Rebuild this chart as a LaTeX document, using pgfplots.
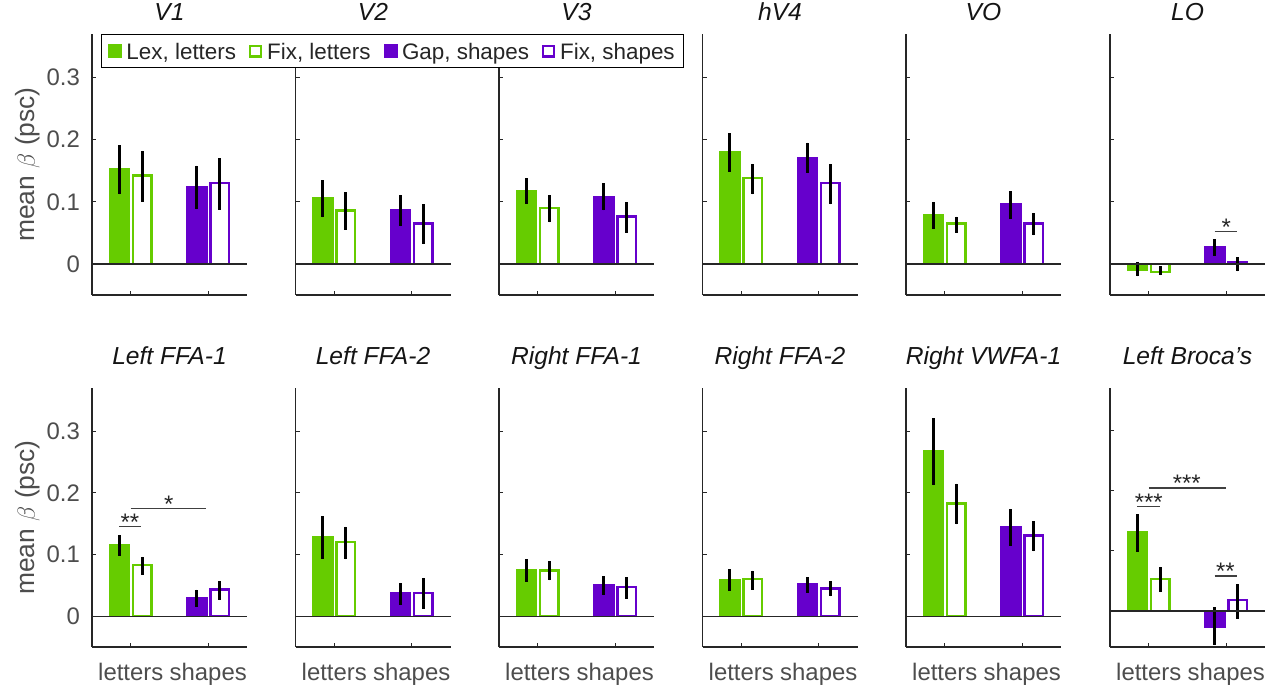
\documentclass[border=0pt]{standalone}
\usepackage{fontspec}
\setmainfont{Liberation Sans}
\usepackage{pgfplots}
\pgfplotsset{compat=1.18}
\definecolor{lg}{RGB}{102,204,0}
\definecolor{pu}{RGB}{102,0,204}
\definecolor{axc}{RGB}{38,38,38}
\definecolor{tkc}{RGB}{77,77,77}
\pgfplotsset{
  panel/.style={
    scale only axis, width=155bp, anchor=south west,
    xmin=0.5, xmax=2.5, ymin=-0.05, ymax=0.37,
    axis x line*=bottom, axis y line*=left,
    xtick={1,2}, ytick={0,0.1,0.2,0.3},
    xticklabels={}, yticklabels={},
    tick align=inside, major tick length=4bp,
    axis line style={line width=1.1bp, axc},
    tick style={line width=1.1bp, axc},
    ticklabel style={font=\fontsize{24}{28}\selectfont, text=tkc, inner sep=0bp},
    xticklabel style={anchor=north, yshift=-16bp},
    yticklabel style={anchor=east, xshift=-12bp},
    title style={font=\fontsize{24.7}{28}\selectfont\itshape, text=black!92, anchor=base, at={(axis description cs:0.5,1)}},
    clip=false,
    /pgf/number format/assume math mode=true,
  },
  toprow/.style={panel, height=261bp, title style={yshift=7.6bp}},
  botrow/.style={panel, height=259bp, title style={yshift=17.6bp}, xticklabels={letters,shapes}},
  firstcol/.style={yticklabels={0,0.1,0.2,0.3}, ylabel={mean $\beta$ (psc)},
    every axis y label/.style={at={(axis description cs:0,0.5)}, xshift=-64bp, rotate=90, anchor=center, font=\fontsize{26.5}{30}\selectfont, text=tkc}},
  errb/.style={error bars/.cd, y dir=both, y explicit, error mark=none, error bar style={line width=2.8bp, black, solid}},
  lex/.style={ybar, bar width=0.265, bar shift=0, fill=lg, draw=lg, line width=0.5bp,
    legend image code/.code={\draw[line width=0.5bp, fill=lg, draw=lg] (0bp,-6.5bp) rectangle (13bp,6.5bp);}, errb},
  fixl/.style={ybar, bar width=0.24, bar shift=0, fill=white, draw=lg, line width=2.4bp,
    legend image code/.code={\draw[line width=2.2bp, fill=white, draw=lg] (1.1bp,-5.4bp) rectangle (11.9bp,5.4bp);}, errb},
  gap/.style={ybar, bar width=0.265, bar shift=0, fill=pu, draw=pu, line width=0.5bp,
    legend image code/.code={\draw[line width=0.5bp, fill=pu, draw=pu] (0bp,-6.5bp) rectangle (13bp,6.5bp);}, errb},
  fixs/.style={ybar, bar width=0.24, bar shift=0, fill=white, draw=pu, line width=2.4bp,
    legend image code/.code={\draw[line width=2.2bp, fill=white, draw=pu] (1.1bp,-5.4bp) rectangle (11.9bp,5.4bp);}, errb},
  zl/.style={forget plot, no markers, line width=1.3bp, axc},
  sig/.style={forget plot, no markers, line width=1.2bp, black!75},
}
\tikzset{star/.style={font=\fontsize{24}{26}\selectfont, anchor=base, inner sep=0bp, yshift=-4bp, text=black!85}}
\begin{document}
\begin{tikzpicture}
\path[use as bounding box] (0,0) rectangle (1276bp,688bp);
% ---------------- bottom row ----------------
\begin{axis}[botrow, firstcol, at={(92bp,41bp)}, title={Left FFA-1}]
\addplot[lex] coordinates {(0.85,0.117) += (0,0.015) -= (0,0.019)};
\addplot[fixl] coordinates {(1.15,0.083) += (0,0.013) -= (0,0.016)};
\addplot[gap] coordinates {(1.85,0.031) += (0,0.012) -= (0,0.016)};
\addplot[fixs] coordinates {(2.15,0.043) += (0,0.014) -= (0,0.017)};
\addplot[zl] coordinates {(0.5,0) (2.5,0)};
\addplot[sig] coordinates {(0.85,0.145) (1.13,0.145)};
\addplot[sig] coordinates {(1.0,0.174) (1.97,0.174)};
\node[star] at (axis cs:0.99,0.145) {**};
\node[star] at (axis cs:1.49,0.174) {*};
\end{axis}
\begin{axis}[botrow, at={(295.5bp,41bp)}, title={Left FFA-2}]
\addplot[lex] coordinates {(0.85,0.129) += (0,0.033) -= (0,0.036)};
\addplot[fixl] coordinates {(1.15,0.120) += (0,0.025) -= (0,0.028)};
\addplot[gap] coordinates {(1.85,0.038) += (0,0.016) -= (0,0.020)};
\addplot[fixs] coordinates {(2.15,0.038) += (0,0.024) -= (0,0.026)};
\addplot[zl] coordinates {(0.5,0) (2.5,0)};
\end{axis}
\begin{axis}[botrow, at={(499bp,41bp)}, title={Right FFA-1}]
\addplot[lex] coordinates {(0.85,0.076) += (0,0.016) -= (0,0.020)};
\addplot[fixl] coordinates {(1.15,0.074) += (0,0.015) -= (0,0.016)};
\addplot[gap] coordinates {(1.85,0.051) += (0,0.014) -= (0,0.017)};
\addplot[fixs] coordinates {(2.15,0.047) += (0,0.016) -= (0,0.019)};
\addplot[zl] coordinates {(0.5,0) (2.5,0)};
\end{axis}
\begin{axis}[botrow, at={(702.5bp,41bp)}, title={Right FFA-2}]
\addplot[lex] coordinates {(0.85,0.060) += (0,0.016) -= (0,0.019)};
\addplot[fixl] coordinates {(1.15,0.060) += (0,0.014) -= (0,0.017)};
\addplot[gap] coordinates {(1.85,0.053) += (0,0.010) -= (0,0.015)};
\addplot[fixs] coordinates {(2.15,0.045) += (0,0.012) -= (0,0.013)};
\addplot[zl] coordinates {(0.5,0) (2.5,0)};
\end{axis}
\begin{axis}[botrow, at={(906bp,41bp)}, title={Right VWFA-1}]
\addplot[lex] coordinates {(0.85,0.269) += (0,0.052) -= (0,0.057)};
\addplot[fixl] coordinates {(1.15,0.183) += (0,0.032) -= (0,0.034)};
\addplot[gap] coordinates {(1.85,0.146) += (0,0.028) -= (0,0.032)};
\addplot[fixs] coordinates {(2.15,0.131) += (0,0.023) -= (0,0.026)};
\addplot[zl] coordinates {(0.5,0) (2.5,0)};
\end{axis}
\begin{axis}[botrow, ymin=-0.06, at={(1110bp,41bp)}, title={Left Broca's}]
\addplot[lex] coordinates {(0.85,0.132) += (0,0.028) -= (0,0.034)};
\addplot[fixl] coordinates {(1.15,0.053) += (0,0.020) -= (0,0.022)};
\addplot[gap] coordinates {(1.85,-0.027) += (0,0.033) -= (0,0.030)};
\addplot[fixs] coordinates {(2.15,0.018) += (0,0.027) -= (0,0.031)};
\addplot[zl] coordinates {(0.5,0) (2.5,0)};
\addplot[sig] coordinates {(0.85,0.173) (1.14,0.173)};
\addplot[sig] coordinates {(1.0,0.204) (2.0,0.204)};
\addplot[sig] coordinates {(1.85,0.058) (2.14,0.058)};
\node[star] at (axis cs:1.0,0.173) {***};
\node[star] at (axis cs:1.49,0.204) {***};
\node[star] at (axis cs:1.99,0.058) {**};
\end{axis}
% ---------------- top row ----------------
\begin{axis}[toprow, at={(295.5bp,393bp)}, title={V2}]
\addplot[lex] coordinates {(0.85,0.107) += (0,0.028) -= (0,0.032)};
\addplot[fixl] coordinates {(1.15,0.086) += (0,0.029) -= (0,0.031)};
\addplot[gap] coordinates {(1.85,0.088) += (0,0.023) -= (0,0.027)};
\addplot[fixs] coordinates {(2.15,0.065) += (0,0.031) -= (0,0.033)};
\addplot[zl] coordinates {(0.5,0) (2.5,0)};
\end{axis}
\begin{axis}[toprow, at={(499bp,393bp)}, title={V3}]
\addplot[lex] coordinates {(0.85,0.119) += (0,0.019) -= (0,0.022)};
\addplot[fixl] coordinates {(1.15,0.090) += (0,0.021) -= (0,0.023)};
\addplot[gap] coordinates {(1.85,0.109) += (0,0.021) -= (0,0.023)};
\addplot[fixs] coordinates {(2.15,0.076) += (0,0.024) -= (0,0.026)};
\addplot[zl] coordinates {(0.5,0) (2.5,0)};
\end{axis}
\begin{axis}[toprow, at={(702.5bp,393bp)}, title={hV4}]
\addplot[lex] coordinates {(0.85,0.181) += (0,0.029) -= (0,0.033)};
\addplot[fixl] coordinates {(1.15,0.138) += (0,0.023) -= (0,0.026)};
\addplot[gap] coordinates {(1.85,0.172) += (0,0.023) -= (0,0.026)};
\addplot[fixs] coordinates {(2.15,0.130) += (0,0.031) -= (0,0.034)};
\addplot[zl] coordinates {(0.5,0) (2.5,0)};
\end{axis}
\begin{axis}[toprow, at={(906bp,393bp)}, title={VO}]
\addplot[lex] coordinates {(0.85,0.080) += (0,0.020) -= (0,0.024)};
\addplot[fixl] coordinates {(1.15,0.065) += (0,0.011) -= (0,0.015)};
\addplot[gap] coordinates {(1.85,0.097) += (0,0.020) -= (0,0.024)};
\addplot[fixs] coordinates {(2.15,0.065) += (0,0.017) -= (0,0.019)};
\addplot[zl] coordinates {(0.5,0) (2.5,0)};
\end{axis}
\begin{axis}[toprow, at={(1110bp,393bp)}, title={LO}]
\addplot[lex] coordinates {(0.85,-0.010) += (0,0.013) -= (0,0.010)};
\addplot[fixl] coordinates {(1.15,-0.013) += (0,0.009) -= (0,0.005)};
\addplot[gap] coordinates {(1.85,0.028) += (0,0.012) -= (0,0.015)};
\addplot[fixs] coordinates {(2.15,0.002) += (0,0.009) -= (0,0.014)};
\addplot[zl] coordinates {(0.5,0) (2.5,0)};
\addplot[sig] coordinates {(1.85,0.052) (2.14,0.052)};
\node[star] at (axis cs:2.0,0.052) {*};
\end{axis}
\begin{axis}[toprow, firstcol, at={(92bp,393bp)}, title={V1},
  legend columns=4,
  legend style={at={(axis description cs:0.058,1)}, anchor=north west, draw=black, line width=1bp, fill=white,
    font=\fontsize{22.5}{26}\selectfont, text=black!85, inner xsep=6.5bp, inner ysep=6.5bp,
    nodes={inner sep=2bp, text depth=0bp},
    /tikz/every odd column/.append style={column sep=3bp},
    /tikz/every even column/.append style={column sep=11bp}}]
\addplot[lex] coordinates {(0.85,0.154) += (0,0.037) -= (0,0.042)};
\addlegendentry{Lex, letters}
\addplot[fixl] coordinates {(1.15,0.142) += (0,0.040) -= (0,0.042)};
\addlegendentry{Fix, letters}
\addplot[gap] coordinates {(1.85,0.125) += (0,0.033) -= (0,0.037)};
\addlegendentry{Gap, shapes}
\addplot[fixs] coordinates {(2.15,0.130) += (0,0.040) -= (0,0.043)};
\addlegendentry{Fix, shapes}
\addplot[zl] coordinates {(0.5,0) (2.5,0)};
\end{axis}
\end{tikzpicture}
\end{document}
